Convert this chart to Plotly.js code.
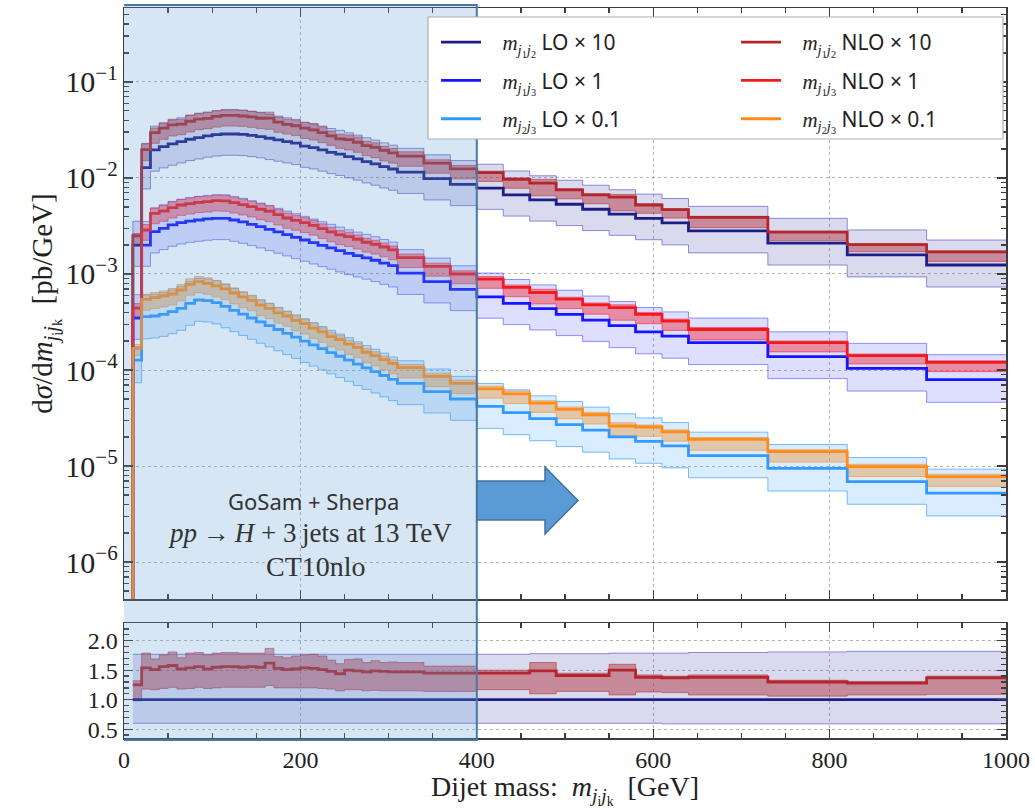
<!DOCTYPE html>
<html><head><meta charset="utf-8">
<script src="https://cdn.plot.ly/plotly-3.0.1.min.js"></script>
<style>html,body{margin:0;padding:0;background:#fff}#chart{width:1035px;height:809px}</style>
</head><body><div id="chart"></div>
<script>
// ---- bin edges (GeV) ----
const binEdges = [0,10,20,30,40,50,60,70,80,90,100,110,120,130,140,150,160,170,180,190,200,210,220,230,240,250,260,270,280,290,300,310,340,370,400,430,460,490,520,550,580,610,640,730,820,910,1000];

// ---- m_j1j2 LO x 10 (pb/GeV, as drawn) ----
const lo12x10 = [1e-9, 2.0e-3, 0.0128, 0.0196, 0.0212, 0.0226, 0.0239, 0.0253, 0.0263, 0.0274, 0.0282, 0.0287, 0.0287, 0.0285, 0.0278, 0.0270, 0.0259, 0.0249, 0.0239, 0.0230, 0.0215, 0.0207, 0.0196, 0.0185, 0.0177, 0.0167, 0.0158, 0.0148, 0.0140, 0.0131, 0.0124, 0.0115, 0.00984, 0.00859, 0.00785, 0.00668, 0.00592, 0.00532, 0.00472, 0.00421, 0.00379, 0.00341, 0.00281, 0.0021, 0.00158, 0.00124];
// LO scale band relative to LO
const lo12RelUp = [null, 1.77,1.77,1.77,1.77,1.77,1.77,1.77,1.77,1.77,1.77, 1.77,1.77,1.77,1.77,1.77,1.77,1.77,1.77,1.77,1.77, 1.77,1.77,1.77,1.77,1.77,1.77,1.77,1.77,1.77,1.77, 1.77,1.77,1.77, 1.77,1.77,1.78,1.78,1.78,1.79,1.79,1.79,1.80,1.81,1.82,1.82];
const lo12RelDn = [null, 0.60,0.60,0.60,0.60,0.60,0.60,0.60,0.60,0.60,0.60, 0.60,0.60,0.60,0.60,0.60,0.60,0.60,0.60,0.60,0.60, 0.60,0.60,0.60,0.60,0.60,0.60,0.60,0.60,0.60,0.60, 0.60,0.60,0.60, 0.60,0.60,0.60,0.60,0.60,0.60,0.60,0.59,0.59,0.59,0.59,0.59];
// NLO / LO for m_j1j2 (ratio panel): central, band up, band down
const nlo12Ratio   = [null, 1.25, 1.54,1.51,1.56,1.58,1.52,1.54,1.56,1.52,1.55,1.56, 1.56,1.55,1.56,1.55,1.62,1.53,1.51,1.52,1.54,1.53, 1.51,1.48,1.44,1.50,1.49,1.47,1.49,1.48,1.47, 1.47,1.45,1.45, 1.45,1.45,1.49,1.41,1.41,1.50,1.38,1.37,1.38,1.30,1.28,1.37];
const nlo12RatioUp = [null, 1.32, 1.79,1.69,1.76,1.81,1.71,1.79,1.80,1.76,1.79,1.80, 1.80,1.79,1.79,1.79,1.87,1.73,1.71,1.74,1.76,1.77, 1.74,1.67,1.61,1.68,1.69,1.63,1.66,1.63,1.64, 1.63,1.57,1.57, 1.50,1.50,1.63,1.45,1.45,1.60,1.42,1.40,1.42,1.33,1.31,1.40];
const nlo12RatioDn = [null, 0.98, 1.18,1.17,1.19,1.21,1.18,1.19,1.21,1.19,1.20,1.21, 1.21,1.21,1.21,1.21,1.24,1.20,1.20,1.20,1.20,1.20, 1.19,1.18,1.15,1.17,1.17,1.15,1.16,1.15,1.15, 1.15,1.14,1.14, 1.17,1.17,1.10,1.14,1.14,1.08,1.13,1.12,1.08,1.06,1.08,1.09];

// ---- m_j1j3 x 1 ----
const lo13x1  = [1e-9, 3.48e-4, 2.00e-3, 2.76e-3, 2.99e-3, 3.24e-3, 3.42e-3, 3.56e-3, 3.65e-3, 3.74e-3, 3.80e-3, 3.80e-3, 3.65e-3, 3.48e-3, 3.29e-3, 3.11e-3, 2.92e-3, 2.74e-3, 2.57e-3, 2.41e-3, 2.26e-3, 2.12e-3, 1.99e-3, 1.87e-3, 1.75e-3, 1.64e-3, 1.55e-3, 1.47e-3, 1.39e-3, 1.30e-3, 1.22e-3, 1.02e-3, 8.32e-4, 6.92e-4, 5.77e-4, 4.95e-4, 4.35e-4, 3.80e-4, 3.31e-4, 2.90e-4, 2.50e-4, 2.25e-4, 1.93e-4, 1.38e-4, 1.04e-4, 7.94e-5];
const nlo13x1 = [1e-9, 4.4e-4, 2.87e-3, 4.28e-3, 4.53e-3, 4.91e-3, 5.23e-3, 5.40e-3, 5.58e-3, 5.67e-3, 5.81e-3, 5.76e-3, 5.53e-3, 5.28e-3, 5.03e-3, 4.72e-3, 4.50e-3, 4.15e-3, 3.83e-3, 3.62e-3, 3.42e-3, 3.21e-3, 2.97e-3, 2.74e-3, 2.55e-3, 2.45e-3, 2.30e-3, 2.14e-3, 2.04e-3, 1.91e-3, 1.78e-3, 1.48e-3, 1.20e-3, 1.00e-3, 8.86e-4, 7.24e-4, 6.41e-4, 5.46e-4, 4.76e-4, 4.46e-4, 3.79e-4, 3.23e-4, 2.64e-4, 1.93e-4, 1.41e-4, 1.20e-4];
const lo13RelUp  = [null, 1.75,1.76,1.76,1.76,1.76,1.76,1.76,1.76,1.76,1.76, 1.76,1.76,1.76,1.76,1.76,1.76,1.76,1.76,1.76,1.76, 1.76,1.76,1.76,1.76,1.76,1.76,1.76,1.76,1.76,1.76, 1.76,1.76,1.76, 1.77,1.77,1.77,1.78,1.78,1.78,1.79,1.79,1.80,1.81,1.82,1.82];
const lo13RelDn  = [null, 0.60,0.60,0.60,0.60,0.60,0.60,0.60,0.60,0.60,0.60, 0.60,0.60,0.60,0.60,0.60,0.60,0.60,0.60,0.60,0.60, 0.60,0.60,0.60,0.60,0.60,0.60,0.60,0.60,0.60,0.60, 0.60,0.60,0.60, 0.60,0.60,0.60,0.60,0.60,0.59,0.59,0.59,0.59,0.59,0.58,0.58];
const nlo13RelUp = [null, 1.12, 1.14,1.14,1.14,1.15,1.14,1.14,1.15,1.14,1.14,1.14, 1.14,1.14,1.14,1.14,1.15,1.13,1.13,1.13,1.13,1.13, 1.12,1.12,1.11,1.11,1.11,1.10,1.10,1.10,1.10, 1.09,1.08,1.08, 1.06,1.06,1.08,1.05,1.05,1.07,1.05,1.05,1.05,1.04,1.04,1.04];
const nlo13RelDn = [null, 0.80, 0.78,0.78,0.78,0.78,0.78,0.78,0.78,0.78,0.78,0.78, 0.78,0.78,0.78,0.78,0.78,0.78,0.78,0.79,0.79,0.79, 0.79,0.79,0.79,0.79,0.79,0.79,0.79,0.79,0.79, 0.79,0.79,0.79, 0.80,0.80,0.76,0.80,0.80,0.74,0.80,0.80,0.78,0.80,0.82,0.80];

// ---- m_j2j3 x 0.1 ----
const lo23x01  = [1e-9, 1.27e-4, 3.59e-4, 3.65e-4, 3.80e-4, 4.05e-4, 4.39e-4, 4.95e-4, 5.36e-4, 5.27e-4, 5.03e-4, 4.59e-4, 4.18e-4, 3.82e-4, 3.48e-4, 3.17e-4, 2.90e-4, 2.64e-4, 2.41e-4, 2.20e-4, 2.00e-4, 1.83e-4, 1.67e-4, 1.52e-4, 1.39e-4, 1.27e-4, 1.15e-4, 1.05e-4, 9.61e-5, 8.76e-5, 7.99e-5, 7.26e-5, 5.95e-5, 4.99e-5, 4.18e-5, 3.59e-5, 3.11e-5, 2.70e-5, 2.36e-5, 2.01e-5, 1.81e-5, 1.62e-5, 1.28e-5, 9.46e-6, 6.89e-6, 5.21e-6];
const nlo23x01 = [1e-9, 1.68e-4, 5.45e-4, 5.67e-4, 5.90e-4, 6.19e-4, 6.81e-4, 7.80e-4, 8.32e-4, 7.99e-4, 7.50e-4, 7.01e-4, 6.34e-4, 5.78e-4, 5.32e-4, 4.73e-4, 4.39e-4, 3.94e-4, 3.65e-4, 3.28e-4, 3.04e-4, 2.73e-4, 2.49e-4, 2.23e-4, 2.07e-4, 1.86e-4, 1.72e-4, 1.53e-4, 1.41e-4, 1.28e-4, 1.17e-4, 1.06e-4, 8.59e-5, 7.26e-5, 6.36e-5, 5.65e-5, 4.52e-5, 3.89e-5, 3.42e-5, 2.61e-5, 2.55e-5, 2.27e-5, 1.89e-5, 1.41e-5, 9.84e-6, 7.76e-6];
const lo23RelUp  = [null, 1.38, 1.68,1.68,1.68,1.68,1.68,1.68,1.68,1.68,1.69,1.69, 1.69,1.69,1.70,1.70,1.70,1.70,1.70,1.70,1.70,1.70, 1.70,1.70,1.70,1.71,1.71,1.71,1.71,1.71,1.71, 1.72,1.72,1.72, 1.73,1.73,1.73,1.74,1.74,1.74,1.75,1.75,1.76,1.77,1.78,1.78];
const lo23RelDn  = [null, 0.58, 0.59,0.59,0.59,0.59,0.59,0.59,0.60,0.60,0.60,0.60, 0.60,0.60,0.60,0.60,0.60,0.60,0.60,0.60,0.60,0.60, 0.60,0.60,0.60,0.60,0.60,0.60,0.60,0.60,0.60, 0.60,0.60,0.60, 0.59,0.59,0.59,0.59,0.59,0.59,0.59,0.59,0.59,0.58,0.58,0.58];
const nlo23RelUp = [null, 1.10, 1.13,1.13,1.13,1.14,1.14,1.14,1.13,1.14,1.14,1.13, 1.13,1.13,1.13,1.13,1.13,1.13,1.12,1.12,1.12,1.12, 1.11,1.11,1.11,1.10,1.10,1.10,1.10,1.09,1.09, 1.08,1.08,1.08, 1.07,1.07,1.06,1.06,1.06,1.08,1.05,1.05,1.05,1.05,1.06,1.06];
const nlo23RelDn = [null, 0.84, 0.77,0.77,0.77,0.77,0.77,0.77,0.77,0.77,0.77,0.77, 0.77,0.77,0.78,0.78,0.78,0.78,0.78,0.78,0.78,0.78, 0.78,0.78,0.78,0.78,0.78,0.78,0.78,0.78,0.78, 0.78,0.78,0.78, 0.80,0.79,0.80,0.80,0.80,0.78,0.80,0.80,0.77,0.78,0.79,0.79];

// ---------------------------------------------------------------
const mul = (a, f) => a.map((v, i) => (f[i] == null ? v : v * f[i]));
const stepY = v => v.concat([v[v.length - 1]]);

const C = {
  lo12: '#1d1d86', nlo12: '#b3262c',
  lo13: '#1515ff', nlo13: '#f01a1e',
  lo23: '#3399ff', nlo23: '#ff8c1a'
};
const FILL = {
  lo12: 'rgba(70,70,175,0.20)', nlo12: 'rgba(175,40,50,0.45)',
  lo13: 'rgba(60,60,255,0.17)', nlo13: 'rgba(240,26,40,0.42)',
  lo23: 'rgba(51,153,255,0.18)', nlo23: 'rgba(235,140,40,0.40)'
};
const EDGE = {
  lo12: 'rgba(70,70,190,0.60)', nlo12: 'rgba(175,40,50,0.55)',
  lo13: 'rgba(60,60,255,0.55)', nlo13: 'rgba(240,26,40,0.55)',
  lo23: 'rgba(51,153,255,0.65)', nlo23: 'rgba(235,140,40,0.55)'
};

function band(x, lower, upper, key, xa, ya) {
  const base = {type: 'scatter', mode: 'lines', x: x, xaxis: xa, yaxis: ya,
    showlegend: false, hoverinfo: 'skip', line: {shape: 'hv', width: 1, color: EDGE[key]}};
  return [
    Object.assign({}, base, {y: stepY(lower)}),
    Object.assign({}, base, {y: stepY(upper), fill: 'tonexty', fillcolor: FILL[key]})
  ];
}
function line(x, y, key, name, legend, group, xa, ya, show) {
  return {type: 'scatter', mode: 'lines', x: x, y: stepY(y), xaxis: xa, yaxis: ya,
    name: name, legend: legend, legendgroup: group, showlegend: show,
    line: {shape: 'hv', width: 2.8, color: C[key]}, hoverinfo: 'skip'};
}

const nlo12x10 = mul(lo12x10, nlo12Ratio);

const NB = '\u00a0\u00a0\u00a0';
const M = s => '<span style="font-family:Liberation Serif">' + s + '</span>';
const mj = (a, b) => NB + M('<i>m</i><sub><i>j</i><sub>' + a + '</sub><i>j</i><sub>' + b + '</sub></sub>');

let traces = [];
// LO bands
traces = traces.concat(band(binEdges, mul(lo12x10, lo12RelDn), mul(lo12x10, lo12RelUp), 'lo12', 'x', 'y'));
traces = traces.concat(band(binEdges, mul(lo13x1, lo13RelDn), mul(lo13x1, lo13RelUp), 'lo13', 'x', 'y'));
traces = traces.concat(band(binEdges, mul(lo23x01, lo23RelDn), mul(lo23x01, lo23RelUp), 'lo23', 'x', 'y'));
// NLO bands
traces = traces.concat(band(binEdges, mul(lo12x10, nlo12RatioDn), mul(lo12x10, nlo12RatioUp), 'nlo12', 'x', 'y'));
traces = traces.concat(band(binEdges, mul(nlo13x1, nlo13RelDn), mul(nlo13x1, nlo13RelUp), 'nlo13', 'x', 'y'));
traces = traces.concat(band(binEdges, mul(nlo23x01, nlo23RelDn), mul(nlo23x01, nlo23RelUp), 'nlo23', 'x', 'y'));
// central lines
traces.push(line(binEdges, lo12x10, 'lo12', mj(1,2) + ' LO × 10', 'legend', 'a1', 'x', 'y', true));
traces.push(line(binEdges, lo13x1, 'lo13', mj(1,3) + ' LO × 1', 'legend', 'a2', 'x', 'y', true));
traces.push(line(binEdges, lo23x01, 'lo23', mj(2,3) + ' LO × 0.1', 'legend', 'a3', 'x', 'y', true));
traces.push(line(binEdges, nlo12x10, 'nlo12', mj(1,2) + ' NLO × 10', 'legend2', 'b1', 'x', 'y', true));
traces.push(line(binEdges, nlo13x1, 'nlo13', mj(1,3) + ' NLO × 1', 'legend2', 'b2', 'x', 'y', true));
traces.push(line(binEdges, nlo23x01, 'nlo23', mj(2,3) + ' NLO × 0.1', 'legend2', 'b3', 'x', 'y', true));

// ratio panel (m_j1j2, normalised to LO)
const rx = binEdges.slice(1);
const loRatio = lo12x10.map((v, i) => v / lo12x10[i]).slice(1);
traces = traces.concat(band(rx, lo12RelDn.slice(1), lo12RelUp.slice(1), 'lo12', 'x2', 'y2'));
traces = traces.concat(band(rx, nlo12RatioDn.slice(1), nlo12RatioUp.slice(1), 'nlo12', 'x2', 'y2'));
traces.push(line(rx, loRatio, 'lo12', 'r1', 'legend', 'r1', 'x2', 'y2', false));
traces.push(line(rx, nlo12Ratio.slice(1), 'nlo12', 'r2', 'legend', 'r2', 'x2', 'y2', false));

// ---------------------------------------------------------------
const AX = '#3c3c3c';
const SERIF = 'Liberation Serif, DejaVu Serif, serif';
const tickFont = {family: SERIF, size: 24, color: '#222'};
const common = {showline: true, linecolor: AX, linewidth: 1.5, mirror: 'allticks',
  ticks: 'inside', ticklen: 9, tickwidth: 1.3, tickcolor: AX,
  showgrid: true, gridcolor: '#b5b5b5', griddash: 'dot', gridwidth: 1, zeroline: false, tickfont: tickFont};

// pixel -> paper helpers for decorations (plot area: x 124..1006, y 8..738)
const PX = p => (p - 124) / 882;
const PY = p => (738 - p) / 730;

const arrowPath = 'M' + PX(477) + ',' + PY(481) + ' L' + PX(545) + ',' + PY(481) +
  ' L' + PX(545) + ',' + PY(467) + ' L' + PX(578) + ',' + PY(500.5) +
  ' L' + PX(545) + ',' + PY(534) + ' L' + PX(545) + ',' + PY(520) +
  ' L' + PX(477) + ',' + PY(520) + ' Z';

const legendCommon = {bgcolor: 'rgba(0,0,0,0)', borderwidth: 0, xanchor: 'left', yanchor: 'top',
  font: {family: 'Noto Sans, DejaVu Sans, sans-serif', size: 21, color: '#222'},
  itemwidth: 40, tracegroupgap: 8, traceorder: 'grouped'};

const layout = {
  width: 1035, height: 809,
  margin: {l: 124, r: 29, t: 8, b: 71},
  paper_bgcolor: '#fff', plot_bgcolor: '#fff',
  showlegend: true,
  xaxis: Object.assign({}, common, {domain: [0, 1], anchor: 'y', range: [0, 1000], dtick: 200,
    showticklabels: false, minor: {dtick: 50, ticks: 'inside', ticklen: 5, tickcolor: AX}}),
  yaxis: Object.assign({}, common, {domain: [0.1904, 1], anchor: 'x', type: 'log',
    range: [-6.385, -0.23], dtick: 1, exponentformat: 'power', showexponent: 'all',
    minor: {dtick: 'D1', ticks: 'inside', ticklen: 5, tickcolor: AX},
    title: {text: 'd<i>σ</i>/d<i>m</i><sub><i>j</i><sub>i</sub><i>j</i><sub>k</sub></sub>\u00a0\u00a0[pb/GeV]',
      font: {family: SERIF, size: 29, color: '#222'}, standoff: 4}}),
  xaxis2: Object.assign({}, common, {domain: [0, 1], anchor: 'y2', matches: 'x', range: [0, 1000], dtick: 200,
    minor: {dtick: 50, ticks: 'inside', ticklen: 5, tickcolor: AX},
    title: {text: 'Dijet mass:\u00a0\u00a0<i>m</i><sub><i>j</i><sub>i</sub><i>j</i><sub>k</sub></sub>\u00a0\u00a0[GeV]',
      font: {family: SERIF, size: 28, color: '#222'}, standoff: 3}}),
  yaxis2: Object.assign({}, common, {domain: [0, 0.1575], anchor: 'x2', range: [0.35, 2.3],
    tickvals: [0.5, 1.0, 1.5, 2.0], tickformat: '.1f',
    minor: {dtick: 0.1, ticks: 'inside', ticklen: 5, tickcolor: AX, showgrid: false}}),
  legend: Object.assign({}, legendCommon, {x: PX(436), y: PY(22)}),
  legend2: Object.assign({}, legendCommon, {x: PX(736), y: PY(22)}),
  shapes: [
    {type: 'rect', xref: 'x', yref: 'paper', x0: -2.3, x1: 400, y0: PY(740), y1: PY(5), layer: 'above',
      fillcolor: 'rgba(91,155,213,0.25)', line: {color: '#4a78a6', width: 2}},
    {type: 'path', xref: 'paper', yref: 'paper', path: arrowPath, layer: 'above',
      fillcolor: '#5b9bd5', line: {color: '#41719c', width: 1.5}},
    {type: 'rect', xref: 'paper', yref: 'paper', x0: PX(428), x1: PX(1003), y0: PY(139), y1: PY(17), layer: 'above',
      fillcolor: '#ffffff', line: {color: '#b0b0b0', width: 1.2}}
  ],
  annotations: [
    {xref: 'paper', yref: 'paper', x: PX(313), y: PY(501), xanchor: 'center', yanchor: 'middle',
      text: 'GoSam + Sherpa', showarrow: false,
      font: {family: 'Noto Sans, DejaVu Sans, sans-serif', size: 22, color: '#333'}},
    {xref: 'paper', yref: 'paper', x: PX(310), y: PY(533), xanchor: 'center', yanchor: 'middle',
      text: '<i>pp</i>\u2009→\u2009<i>H</i> + 3\u2009jets at 13 TeV', showarrow: false,
      font: {family: SERIF, size: 27, color: '#333'}},
    {xref: 'paper', yref: 'paper', x: PX(316), y: PY(566), xanchor: 'center', yanchor: 'middle',
      text: 'CT10nlo', showarrow: false,
      font: {family: SERIF, size: 28, color: '#333'}}
  ]
};

Plotly.newPlot('chart', traces, layout, {displayModeBar: false, staticPlot: true});
</script>
</body></html>
